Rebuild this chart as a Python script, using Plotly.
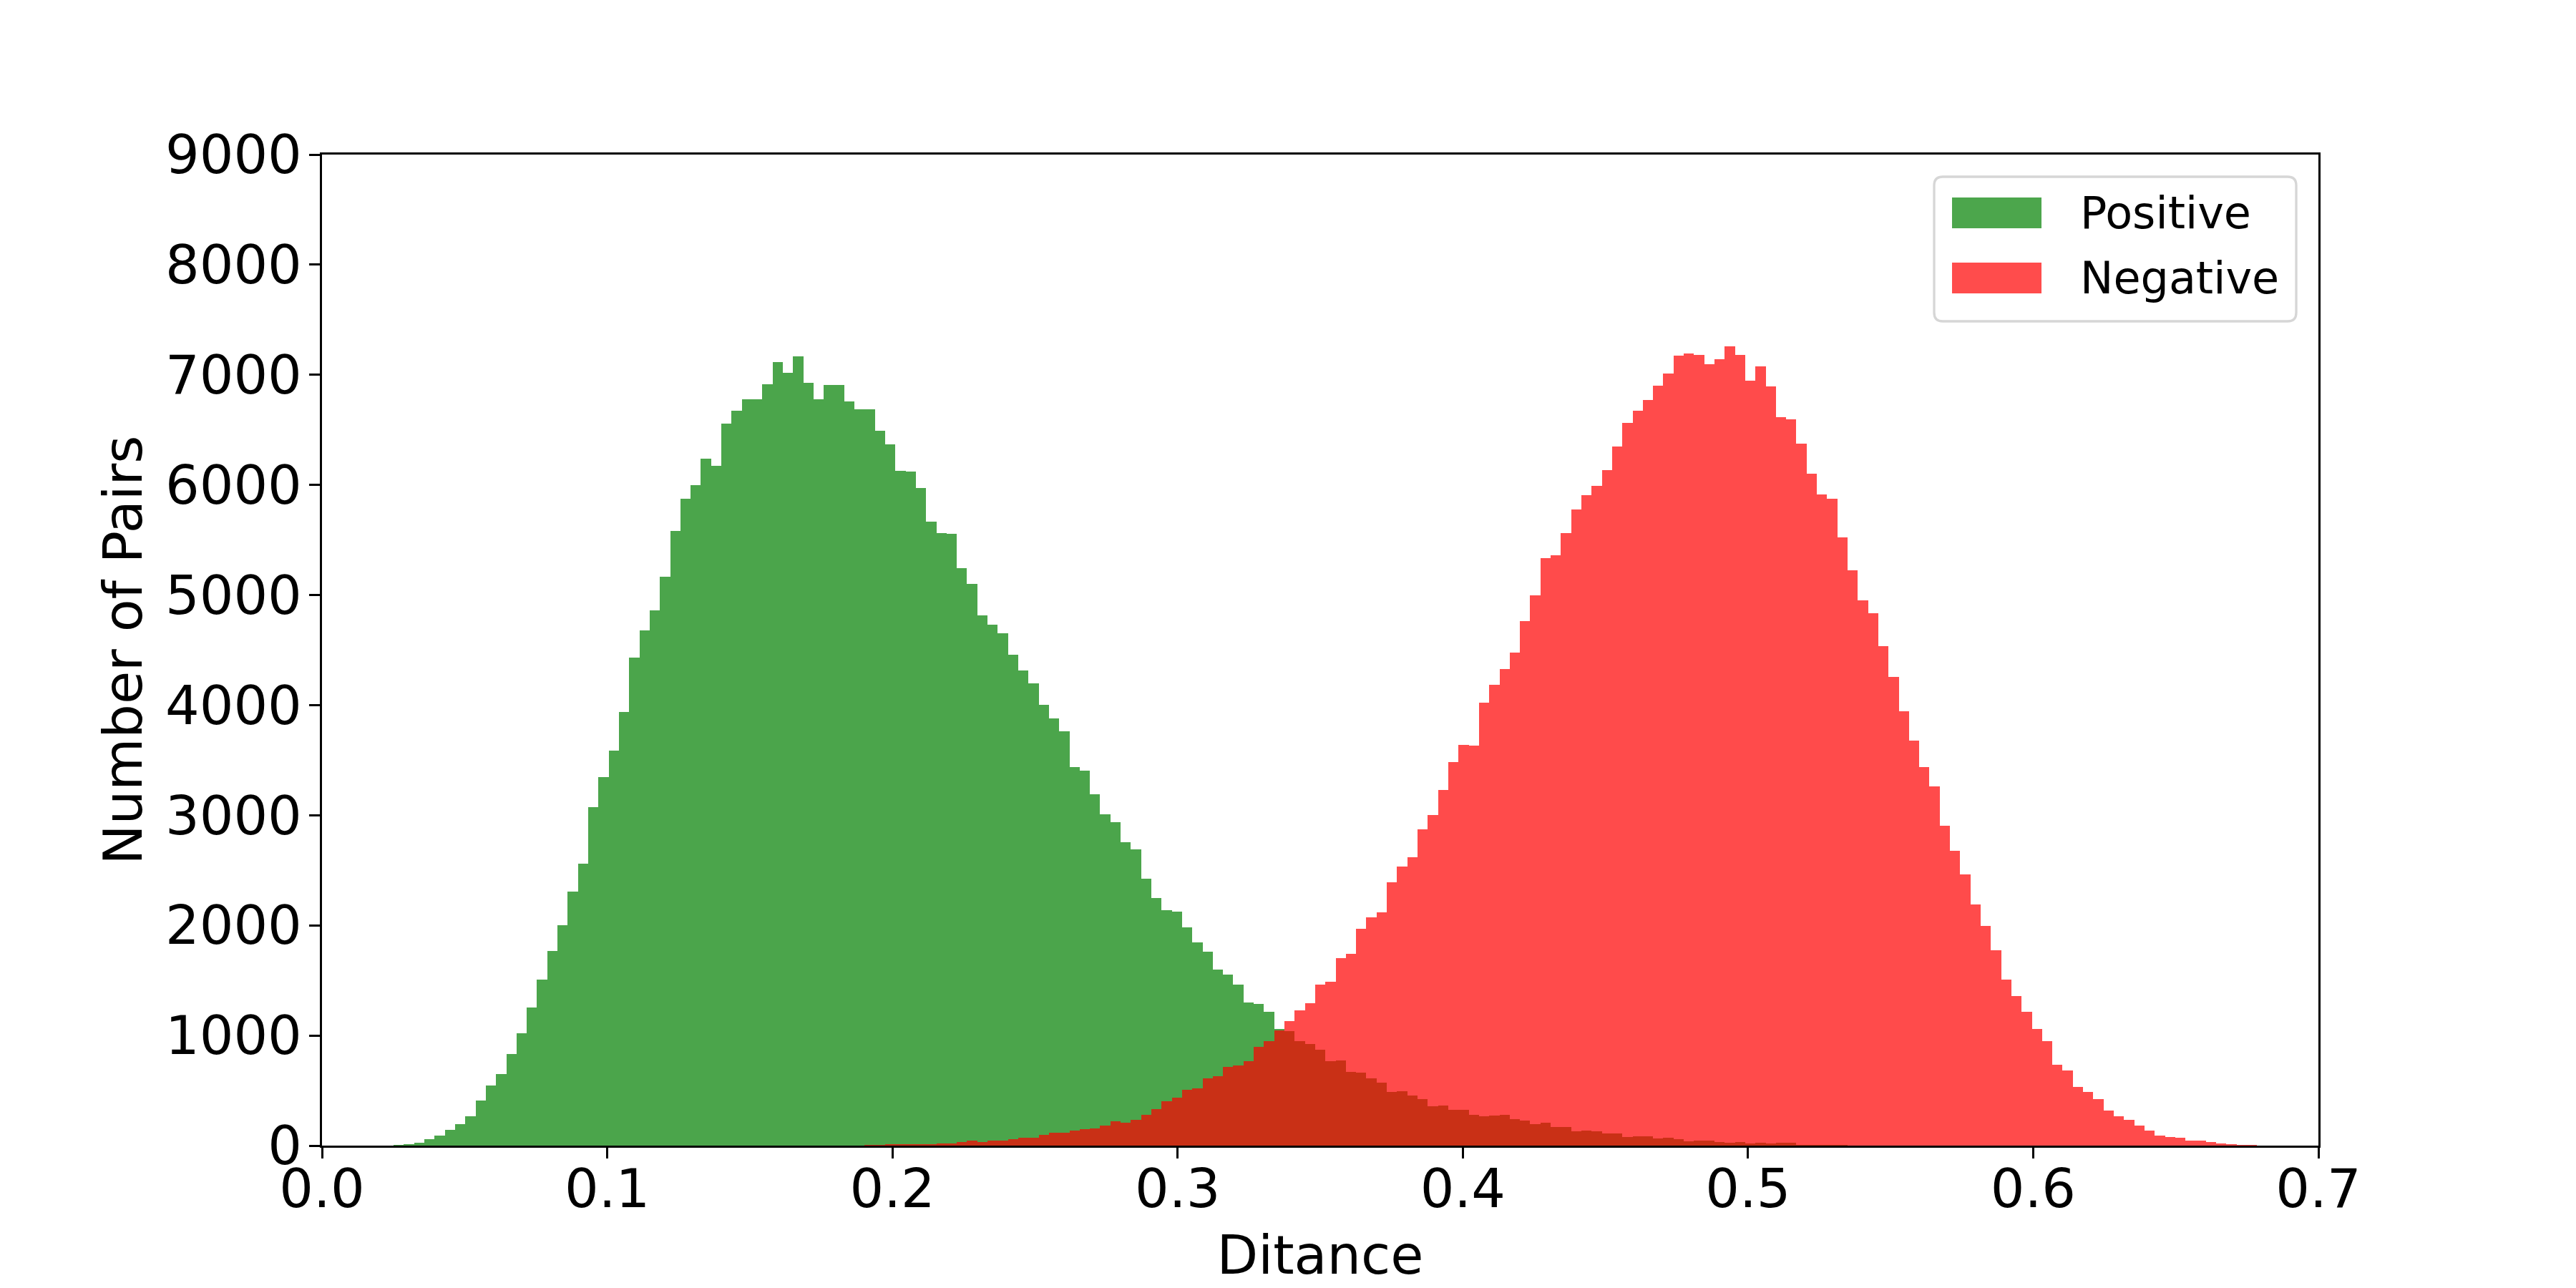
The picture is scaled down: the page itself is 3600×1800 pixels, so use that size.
import plotly.graph_objects as go

# histogram bins (shared by both series), bin k spans [k*w, (k+1)*w]
bin_width = 0.00359
green_first_bin = 7
red_first_bin = 53

# counts per bin
positive_counts = [
    2, 10, 26, 60, 91, 143, 195, 266, 409, 546,
    650, 832, 1020, 1254, 1508, 1767, 2000, 2307, 2561, 3074,
    3347, 3586, 3939, 4431, 4680, 4859, 5167, 5580, 5873, 5997,
    6236, 6172, 6554, 6674, 6778, 6778, 6912, 7116, 7017, 7166,
    6927, 6778, 6907, 6907, 6758, 6684, 6689, 6490, 6370, 6127,
    6122, 5973, 5664, 5565, 5555, 5247, 5102, 4814, 4729, 4655,
    4456, 4312, 4197, 4003, 3879, 3765, 3436, 3407, 3193, 3009,
    2939, 2755, 2690, 2422, 2248, 2138, 2123, 1983, 1845, 1760,
    1597, 1555, 1465, 1299, 1285, 1218, 1059, 1040, 949, 923,
    871, 767, 773, 669, 663, 611, 572, 487, 494, 455,
    422, 357, 364, 325, 325, 279, 266, 273, 279, 240,
    227, 195, 208, 169, 169, 130, 136, 130, 110, 110,
    78, 84, 84, 65, 71, 58, 39, 45, 45, 32,
    26, 32, 19, 26, 19, 26, 26, 6, 6, 4,
    6, 3,
]

negative_counts = [
    6, 6, 13, 8, 13, 13, 15, 20, 20, 32,
    45, 35, 45, 45, 58, 71, 71, 97, 117, 117,
    136, 149, 156, 182, 221, 208, 234, 279, 331, 403,
    435, 507, 520, 611, 630, 715, 728, 767, 897, 949,
    1046, 1130, 1225, 1290, 1462, 1485, 1701, 1740, 1969, 2074,
    2119, 2392, 2536, 2621, 2874, 3004, 3227, 3481, 3640, 3630,
    4023, 4182, 4327, 4476, 4764, 4998, 5336, 5361, 5565, 5779,
    5908, 5992, 6137, 6351, 6564, 6674, 6773, 6898, 7012, 7176,
    7196, 7181, 7097, 7141, 7261, 7181, 6947, 7077, 6893, 6614,
    6594, 6375, 6102, 5913, 5873, 5525, 5227, 4953, 4834, 4535,
    4257, 3944, 3680, 3436, 3262, 2904, 2675, 2462, 2190, 1995,
    1775, 1508, 1355, 1214, 1062, 950, 733, 680, 533, 490,
    423, 316, 265, 237, 181, 138, 91, 76, 71, 45,
    45, 32, 20, 8, 6, 6,
]

labels = ['Positive', 'Negative']
colors = ['#008000', '#ff0000']

x_ticks = [0.0, 0.1, 0.2, 0.3, 0.4, 0.5, 0.6, 0.7]
y_ticks = [0, 1000, 2000, 3000, 4000, 5000, 6000, 7000, 8000, 9000]


def centers(first_bin, n):
    return [(first_bin + i + 0.5) * bin_width for i in range(n)]


fig = go.Figure()

for counts, first, name, color in [
    (positive_counts, green_first_bin, labels[0], colors[0]),
    (negative_counts, red_first_bin, labels[1], colors[1]),
]:
    fig.add_bar(
        x=centers(first, len(counts)),
        y=counts,
        width=bin_width,
        name=name,
        marker=dict(color=color, line=dict(width=0)),
        opacity=0.7,
        showlegend=False,
    )

FONT = 'DejaVu Sans'
W, H = 3600, 1800
# the page body adds an 8px offset, so margins are shifted to compensate
L, R, T, B = 442, 368, 208, 207
pw, ph = W - L - R, H - T - B
OFF = 8


def px(X):
    return (X - OFF - L) / pw


def py(Y):
    return (H - B - (Y - OFF)) / ph


# legend drawn by hand so the patches match the reference size
shapes = []
bx0, bx1, by0, by1 = px(2703), px(3209), py(449), py(247)
rx, ry = 12 / pw, 12 / ph
path = (
    f'M {bx0 + rx},{by1} L {bx1 - rx},{by1} Q {bx1},{by1} {bx1},{by1 - ry} '
    f'L {bx1},{by0 + ry} Q {bx1},{by0} {bx1 - rx},{by0} '
    f'L {bx0 + rx},{by0} Q {bx0},{by0} {bx0},{by0 + ry} '
    f'L {bx0},{by1 - ry} Q {bx0},{by1} {bx0 + rx},{by1} Z'
)
shapes.append(dict(type='path', xref='paper', yref='paper', path=path,
                   line=dict(color='#d6d6d6', width=3.3), fillcolor='rgba(255,255,255,0.8)'))

annotations = []
for i, (name, color) in enumerate(zip(labels, colors)):
    top = 276 + i * 91
    shapes.append(dict(type='rect', xref='paper', yref='paper',
                       x0=px(2728), x1=px(2853), y0=py(top + 43), y1=py(top),
                       fillcolor=color, opacity=0.7, line=dict(width=0)))
    annotations.append(dict(xref='paper', yref='paper', x=px(2905), y=py(top + 21),
                            xanchor='left', yanchor='middle', text=name, showarrow=False,
                            font=dict(family=FONT, size=62, color='black')))

axis_common = dict(
    showline=True, mirror=True, linecolor='black', linewidth=3.3,
    ticks='outside', ticklen=15, tickwidth=3.3, tickcolor='black',
    showgrid=False, zeroline=False,
    tickfont=dict(family=FONT, size=75, color='black'),
)

fig.update_layout(
    width=W, height=H,
    margin=dict(l=L, r=R, t=T, b=B, autoexpand=False),
    plot_bgcolor='white', paper_bgcolor='white',
    barmode='overlay', bargap=0,
    shapes=shapes, annotations=annotations,
    xaxis=dict(
        range=[0, 0.7], tickvals=x_ticks, tickformat='.1f', ticklabelstandoff=-22,
        title=dict(text='Ditance', font=dict(family=FONT, size=75, color='black'), standoff=24),
        **axis_common,
    ),
    yaxis=dict(
        range=[0, 9000], tickvals=y_ticks, tickformat='d', ticklabelstandoff=-5,
        title=dict(text='Number of Pairs', font=dict(family=FONT, size=75, color='black'), standoff=8),
        **axis_common,
    ),
)

fig.write_html("out.html")
